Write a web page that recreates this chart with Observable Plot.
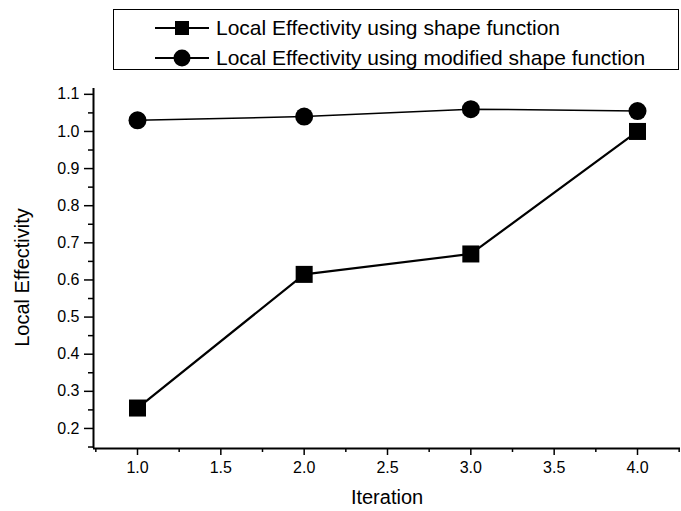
<!DOCTYPE html>
<html>
<head>
<meta charset="utf-8">
<script src="https://cdn.jsdelivr.net/npm/d3@7"></script>
<script src="https://cdn.jsdelivr.net/npm/@observablehq/plot@0.6"></script>
<style>
  html, body { margin: 0; padding: 0; background: white; }
  #chart { position: relative; width: 681px; height: 511px; background: white; font-family: "Liberation Sans", Arial, sans-serif; color: black; }
  #legend { position: relative; height: 75px; }
  #legend .box { position: absolute; left: 113px; top: 9px; width: 564px; height: 59px; border: 1.5px solid black; }
  #legend .row { position: absolute; left: 41px; height: 30px; display: flex; align-items: center; font-size: 21px; white-space: nowrap; }
  #legend .row svg { margin-right: 7px; }
  #chart > svg { display: block; }
</style>
</head>
<body>
<div id="chart">
  <div id="legend"><div class="box"></div></div>
</div>
<script>
// ---- data ----
const iterations = [1, 2, 3, 4];
const shapeFunction = [0.255, 0.615, 0.67, 1.0];
const modifiedShapeFunction = [1.03, 1.04, 1.06, 1.055];
const seriesNames = ["Local Effectivity using shape function", "Local Effectivity using modified shape function"];
const xMajorTicks = [1.0, 1.5, 2.0, 2.5, 3.0, 3.5, 4.0];
const xMinorTicks = [0.75, 1.25, 1.75, 2.25, 2.75, 3.25, 3.75, 4.25];
const yMajorTicks = [0.2, 0.3, 0.4, 0.5, 0.6, 0.7, 0.8, 0.9, 1.0, 1.1];
const yMinorTicks = [0.15, 0.25, 0.35, 0.45, 0.55, 0.65, 0.75, 0.85, 0.95, 1.05];
const xDomain = [0.736, 4.258];
const yDomain = [0.146, 1.1157];
const xTitle = "Iteration";
const yTitle = "Local Effectivity";

const shapeData = iterations.map((x, i) => ({x, y: shapeFunction[i]}));
const modData = iterations.map((x, i) => ({x, y: modifiedShapeFunction[i]}));

// ---- legend ----
const box = document.querySelector("#legend .box");
const legendSymbols = ["square", "circle"];
seriesNames.forEach((name, i) => {
  const row = document.createElement("div");
  row.className = "row";
  row.style.top = (3 + i * 30) + "px";
  const sym = legendSymbols[i] === "square"
    ? '<rect x="20" y="8" width="14" height="14" fill="black"/>'
    : '<circle cx="27" cy="15" r="8.5" fill="black"/>';
  row.innerHTML = '<svg width="54" height="30"><line x1="0" x2="54" y1="15" y2="15" stroke="black" stroke-width="2"/>' + sym + '</svg><span></span>';
  row.querySelector("span").textContent = name;
  box.appendChild(row);
});

// ---- chart ----
const chart = Plot.plot({
  width: 681,
  height: 436,
  marginLeft: 93,
  marginRight: 1,
  marginTop: 13,
  marginBottom: 63,
  x: {domain: xDomain},
  y: {domain: yDomain},
  style: {fontFamily: "'Liberation Sans', Arial, sans-serif", background: "white", color: "black", overflow: "visible"},
  marks: [
    Plot.ruleY([yDomain[0]], {stroke: "black", strokeWidth: 2}),
    Plot.ruleX([xDomain[0]], {stroke: "black", strokeWidth: 2}),
    Plot.axisX(xMajorTicks, {tickSize: 7, tickPadding: 6, tickFormat: d3.format(".1f"), fontSize: 16, strokeWidth: 1.5, label: null}),
    Plot.axisX(xMinorTicks, {tickSize: 4, tickFormat: () => "", strokeWidth: 1.5, label: null}),
    Plot.axisY(yMajorTicks, {tickSize: 9, tickPadding: 5, tickFormat: d3.format(".1f"), fontSize: 16, strokeWidth: 1.5, label: null}),
    Plot.axisY(yMinorTicks, {tickSize: 5, tickFormat: () => "", strokeWidth: 1.5, label: null}),
    Plot.line(modData, {x: "x", y: "y", stroke: "black", strokeWidth: 1.5}),
    Plot.line(shapeData, {x: "x", y: "y", stroke: "black", strokeWidth: 2.2}),
    Plot.dot(modData, {x: "x", y: "y", symbol: "circle", r: 9, fill: "black", stroke: "none"}),
    Plot.dot(shapeData, {x: "x", y: "y", symbol: "square", r: 9.6, fill: "black", stroke: "none"}),
    Plot.text([xTitle], {text: d => d, frameAnchor: "bottom", dy: 49, fontSize: 20, lineAnchor: "middle", textAnchor: "middle"}),
    Plot.text([yTitle], {text: d => d, frameAnchor: "left", rotate: -90, dx: -71, dy: 9, fontSize: 20, lineAnchor: "middle", textAnchor: "middle"})
  ]
});
document.getElementById("chart").appendChild(chart);
</script>
</body>
</html>
